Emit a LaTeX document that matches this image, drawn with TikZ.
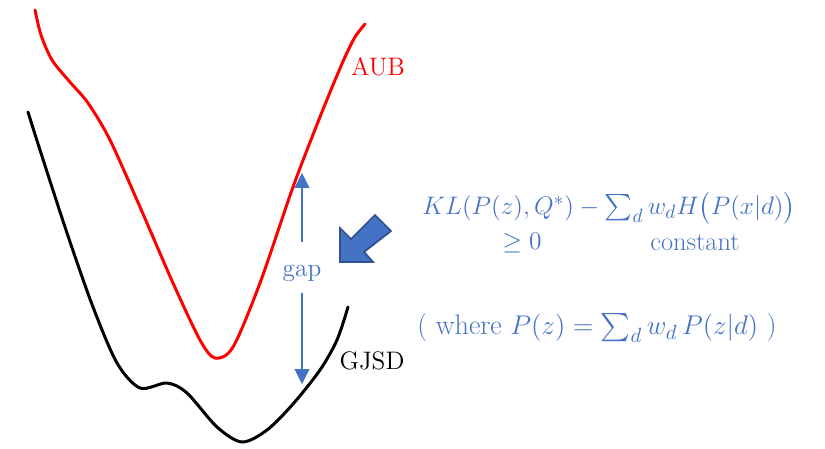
\documentclass[tikz,border=0pt]{standalone}
\usepackage{amsmath,amssymb}
\usepackage{xcolor}
\definecolor{accent}{RGB}{68,114,196}
\definecolor{accentdark}{RGB}{47,82,143}
\usetikzlibrary{positioning,arrows.meta}

\begin{document}
\begin{tikzpicture}[x=0.02cm, y=-0.02cm, >=Stealth,
  curve/.style={line width=1.7pt, line cap=round, smooth, tension=0.5},
  gaparrow/.style={accent, line width=0.6pt, -{Triangle[length=8.5pt, width=8.5pt]}},
  bigarrow/.style={fill=accent, draw=accentdark, line width=1pt, line join=miter},
  lbl/.style={font=\Large, inner sep=0pt},
  eq/.style={accent, font=\fontsize{15}{18}\selectfont, inner sep=0pt}]
\useasboundingbox (0,0) rectangle (825,449);
% AUB curve
\draw[curve, red] plot coordinates {(35,10) (41,35) (52,60) (69,81) (88,103) (110,140) (140,207)
  (173,283) (200,340) (215,358) (233,347) (260,283) (293,187) (318,122) (333,85) (345,57)
  (355,37) (365,24)};
% GJSD curve
\draw[curve, black] plot coordinates {(28,112) (40,150) (67,233) (93,307) (117,363) (140,388)
  (167,383) (187,393) (217,427) (242,442) (267,430) (293,404) (320,370) (337,340) (348,307)};
\node[lbl, red] (aub) at (378,67) {AUB};
\node[lbl] (gjsd) at (372,361) {GJSD};
% gap
\node[lbl, accent] (gaplbl) at (302,273) {gap};
\coordinate (upfoot) at (302,242);
\coordinate (uptop) at (302,173);
\coordinate (downfoot) at (302,293);
\coordinate (downtip) at (302,384);
\draw[gaparrow] (upfoot) -- (uptop);
\draw[gaparrow] (downfoot) -- (downtip);
% block arrow
\draw[bigarrow] (340,262) -- (340,228) -- (351,239) -- (375,215) -- (391,231)
  -- (364,252) -- (373,262) -- cycle;
% equations
\node[eq] (kl) at (609,208) {$KL(P(z),Q^{*})-\textstyle\sum_d w_d H\bigl(P(x|d)\bigr)$};
\node[eq] (geq) at (522,243) {$\geq 0$};
\node[eq] (const) at (695,243) {constant};
\node[eq, scale=1.07, transform shape] (where) at (597,328) {( where $P(z)=\textstyle\sum_d w_d\,P(z|d)$ )};
\end{tikzpicture}
\end{document}
